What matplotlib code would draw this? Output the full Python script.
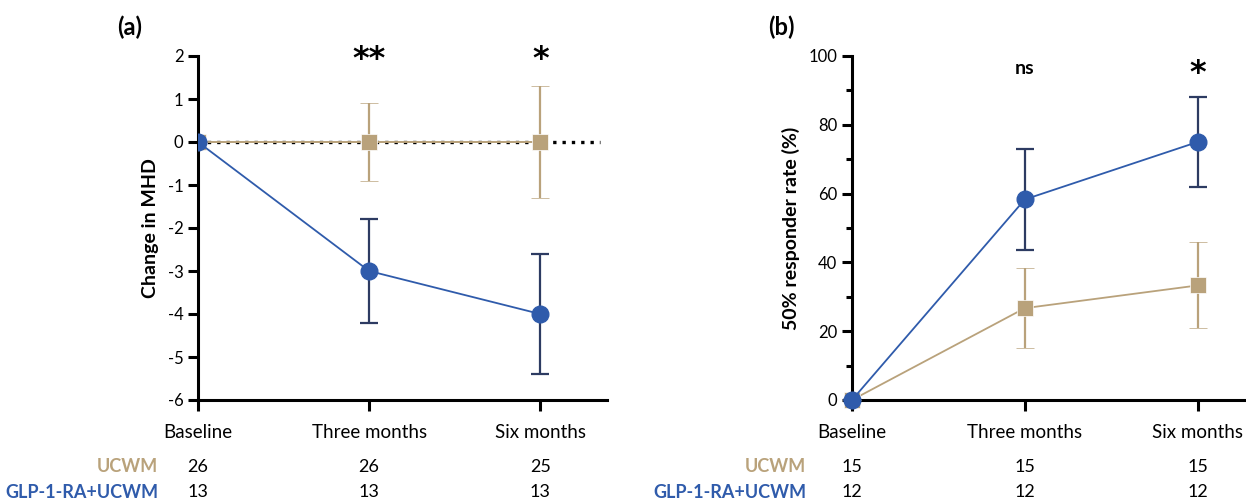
import matplotlib
matplotlib.use("Agg")
import matplotlib.pyplot as plt
from matplotlib.ticker import MultipleLocator

plt.rcParams['font.family'] = ['Lato', 'DejaVu Sans']
plt.rcParams['axes.unicode_minus'] = False

timepoints = ["Baseline", "Three months", "Six months"]

# Panel (a): change in MHD
mhd_ucwm = [0, 0, 0]
mhd_ucwm_err = [0, 0.9, 1.3]
mhd_glp = [0, -3, -4]
mhd_glp_err = [0, 1.2, 1.4]
sig_a = ["", "**", "*"]
n_ucwm_a = [26, 26, 25]
n_glp_a = [13, 13, 13]

# Panel (b): 50% responder rate
resp_ucwm = [0, 26.7, 33.3]
resp_ucwm_err = [0, 11.7, 12.5]
resp_glp = [0, 58.3, 75.0]
resp_glp_err = [0, 14.7, 13.0]
sig_b = ["", "ns", "*"]
n_ucwm_b = [15, 15, 15]
n_glp_b = [12, 12, 12]

BLUE = '#2f5bab'
NAVY = '#2d3b62'
TAN = '#b9a27b'

W, H = 1246, 503
fig = plt.figure(figsize=(W/100, H/100), dpi=100)

def px(x0, y0, x1, y1):
    return [x0/W, 1-y1/H, (x1-x0)/W, (y1-y0)/H]

axA = fig.add_axes(px(198, 56, 607, 400))
axB = fig.add_axes(px(852, 56, 1246, 400))

x = [0, 1, 2]

def style(ax):
    for s in ['top', 'right']:
        ax.spines[s].set_visible(False)
    for s in ['left', 'bottom']:
        ax.spines[s].set_linewidth(2.2)
    ax.tick_params(axis='both', width=2.2, length=7, labelsize=12)
    ax.tick_params(axis='x', length=8, pad=9, labelsize=13.5)
    ax.set_xticks(x)
    ax.set_xticklabels(timepoints)

def star(ax, xi, y_px, s):
    # place significance text at a pixel row of the figure
    trans = ax.get_xaxis_transform()
    if s == 'ns':
        ax.annotate(s, xy=(xi, 1 - (y_px - 56) / 344), xycoords=trans, ha='center', va='center',
                    fontsize=14, fontweight='bold', annotation_clip=False)
    else:
        ax.annotate(s, xy=(xi, 1 - (y_px + 5 - 56) / 344), xycoords=trans, ha='center', va='center',
                    fontsize=23, fontweight='bold', family='DejaVu Sans', annotation_clip=False)

# ---- Panel (a)
axA.axhline(0, xmin=0, xmax=2.35/2.39, color='black', ls=(0, (1, 1.8)), lw=2.4, zorder=1)
axA.errorbar(x, mhd_ucwm, yerr=mhd_ucwm_err, color=TAN, ecolor=TAN, elinewidth=1.6,
             capsize=6.5, capthick=1.6, marker='s', ms=11, mec='white', mew=0.5, lw=1.4, zorder=3)
axA.errorbar(x, mhd_glp, yerr=mhd_glp_err, color=BLUE, ecolor=NAVY, elinewidth=1.6,
             capsize=6.5, capthick=1.6, marker='o', ms=12, mec=BLUE, lw=1.3, zorder=4)
axA.set_xlim(0, 2.39)
axA.set_ylim(-6, 2)
axA.set_yticks(range(-6, 3))
axA.set_ylabel("Change in MHD", fontsize=14, fontweight='bold', labelpad=6)
style(axA)
for xi, s in zip(x, sig_a):
    if s:
        star(axA, xi, 55, s)

# ---- Panel (b)
axB.errorbar(x, resp_ucwm, yerr=resp_ucwm_err, color=TAN, ecolor=TAN, elinewidth=1.6,
             capsize=6.5, capthick=1.6, marker='s', ms=11, mec='white', mew=0.5, lw=1.3, zorder=3,
             clip_on=False)
axB.errorbar(x, resp_glp, yerr=resp_glp_err, color=BLUE, ecolor=NAVY, elinewidth=1.6,
             capsize=6.5, capthick=1.6, marker='o', ms=12, mec=BLUE, lw=1.3, zorder=4,
             clip_on=False)
axB.set_xlim(0, 2.28)
axB.set_ylim(0, 100)
axB.set_yticks(range(0, 101, 20))
axB.yaxis.set_minor_locator(MultipleLocator(10))
axB.tick_params(axis='y', which='minor', width=2.2, length=4.5)
axB.set_ylabel("50% responder rate (%)", fontsize=14, fontweight='bold', labelpad=6)
style(axB)
for xi, s in zip(x, sig_b):
    if s:
        star(axB, xi, 68, s)

# panel letters
fig.text(130/W, 1-27/H, "(a)", fontsize=17, fontweight='bold', ha='center', va='center')
fig.text(781/W, 1-27/H, "(b)", fontsize=17, fontweight='bold', ha='center', va='center')

# N tables
def ntable(ax, label_x, n_u, n_g):
    trans = ax.get_xaxis_transform()
    fig.text(label_x/W, 1-466/H, "UCWM", color=TAN, fontsize=13, fontweight='bold',
             ha='right', va='center')
    fig.text(label_x/W, 1-492/H, "GLP-1-RA+UCWM", color=BLUE, fontsize=13, fontweight='bold',
             ha='right', va='center')
    for xi, a, b in zip(x, n_u, n_g):
        ax.annotate(str(a), xy=(xi, 0), xycoords=trans, xytext=(0, -(467-400)*0.72),
                    textcoords='offset points', ha='center', va='center', fontsize=13,
                    annotation_clip=False)
        ax.annotate(str(b), xy=(xi, 0), xycoords=trans, xytext=(0, -(492-400)*0.72),
                    textcoords='offset points', ha='center', va='center', fontsize=13,
                    annotation_clip=False)

ntable(axA, 158, n_ucwm_a, n_glp_a)
ntable(axB, 806, n_ucwm_b, n_glp_b)

fig.savefig("out.png", dpi=100)
